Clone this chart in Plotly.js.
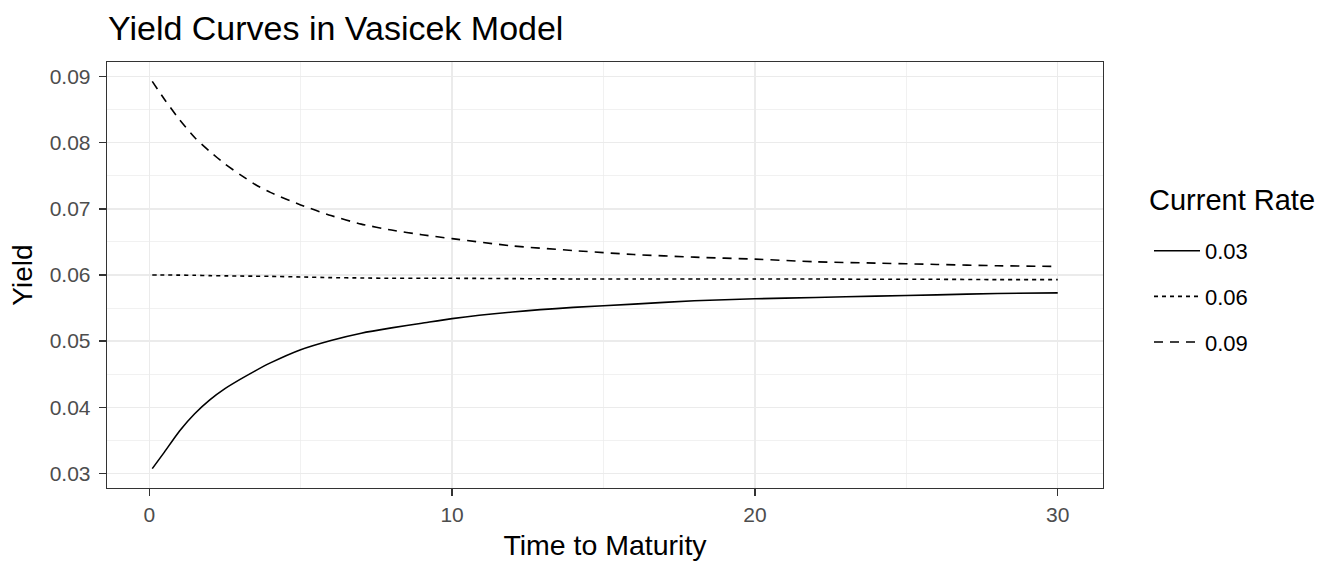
<!DOCTYPE html>
<html>
<head>
<meta charset="utf-8">
<script src="https://cdn.plot.ly/plotly-3.0.1.min.js"></script>
<style>html,body{margin:0;padding:0;background:#fff;}#chart{width:1344px;height:576px;}</style>
</head>
<body>
<div id="chart"></div>
<script>
// Time to maturity (years)
var maturity = [0.1, 0.5, 1, 1.5, 2, 2.5, 3, 3.5, 4, 5, 6, 7, 8, 9, 10, 12, 14, 16, 18, 20, 22, 24, 26, 28, 30];
// Current rate labels
var rateLabels = ["0.03", "0.06", "0.09"];
var legendTitle = "Current Rate";
// Yields
var yield003 = [0.0307, 0.0332, 0.0364, 0.0390, 0.0411, 0.0428, 0.0442, 0.0455, 0.0467, 0.0487, 0.0501, 0.0512, 0.0520, 0.0527, 0.0534, 0.0544, 0.0551, 0.0556, 0.0561, 0.0564, 0.0566, 0.0568, 0.0570, 0.0572, 0.0573];
var yield006 = [0.0600, 0.0600, 0.05998, 0.05996, 0.0599, 0.05987, 0.05984, 0.05982, 0.0598, 0.0597, 0.0596, 0.05955, 0.0595, 0.0595, 0.0595, 0.05945, 0.0594, 0.0594, 0.0594, 0.0594, 0.0594, 0.05935, 0.05935, 0.0593, 0.0593];
var yield009 = [0.0893, 0.0866, 0.0835, 0.0808, 0.0787, 0.0768, 0.0752, 0.0737, 0.0725, 0.0706, 0.0690, 0.0677, 0.0668, 0.0661, 0.0655, 0.0644, 0.0637, 0.0631, 0.0627, 0.0624, 0.0620, 0.0618, 0.0616, 0.0614, 0.0613];

var series = [yield003, yield006, yield009];
var dashes = ["solid", "4px,4px", "9px,7px"];

var traces = series.map(function (ys, i) {
  return {
    x: maturity, y: ys, type: "scatter", mode: "lines",
    name: rateLabels[i], legendgroup: "g" + i,
    line: {color: "#000000", width: 1.6, dash: dashes[i], shape: "spline", smoothing: 0.6}
  };
});

var W = 1344, H = 576, L = 107, R = 241, T = 62, B = 88;
var gridColor = "#EBEBEB";
var layout = {
  width: W, height: H,
  paper_bgcolor: "#FFFFFF", plot_bgcolor: "#FFFFFF",
  margin: {l: L, r: R, t: T, b: B, pad: 0},
  font: {family: "Liberation Sans, Arial, sans-serif", color: "#000000"},
  title: {
    text: "Yield Curves in Vasicek Model",
    font: {size: 34, color: "#000000"},
    xref: "container", x: 108 / W, xanchor: "left",
    yref: "container", y: 1 - 28 / H, yanchor: "middle"
  },
  xaxis: {
    range: [-1.395, 31.495], tickmode: "linear", tick0: 0, dtick: 10,
    showgrid: true, gridcolor: gridColor, gridwidth: 1.3,
    minor: {dtick: 5, showgrid: true, gridcolor: gridColor, gridwidth: 0.7},
    zeroline: false, showline: true, mirror: true, linecolor: "#333333", linewidth: 1.3,
    ticks: "outside", ticklen: 7, tickwidth: 1.3, tickcolor: "#333333",
    tickfont: {size: 21, color: "#4D4D4D"},
    title: {text: "Time to Maturity", font: {size: 28.5, color: "#000000"}, standoff: 10},
    automargin: false
  },
  yaxis: {
    range: [0.02777, 0.09223], tickmode: "linear", tick0: 0.03, dtick: 0.01, tickformat: ".2f",
    showgrid: true, gridcolor: gridColor, gridwidth: 1.3,
    minor: {dtick: 0.005, showgrid: true, gridcolor: gridColor, gridwidth: 0.7},
    zeroline: false, showline: true, mirror: true, linecolor: "#333333", linewidth: 1.3,
    ticks: "outside", ticklen: 7, tickwidth: 1.3, tickcolor: "#333333",
    tickfont: {size: 21, color: "#4D4D4D"}, ticklabelstandoff: 4,
    title: {text: "Yield", font: {size: 28, color: "#000000"}, standoff: 8},
    automargin: false
  },
  showlegend: true,
  legend: {
    xref: "container", x: 1149 / W, xanchor: "left",
    yref: "container", y: 1 - 230 / H, yanchor: "top",
    bgcolor: "rgba(0,0,0,0)", borderwidth: 0,
    font: {size: 22, color: "#000000"},
    tracegroupgap: 14, itemwidth: 46
  },
  annotations: [{
    text: legendTitle, showarrow: false,
    xref: "paper", x: (1147 - L) / (W - L - R), xanchor: "left",
    yref: "paper", y: (H - B - 200) / (H - T - B), yanchor: "middle",
    font: {size: 29, color: "#000000"}
  }]
};

Plotly.newPlot("chart", traces, layout, {displayModeBar: false, staticPlot: true});
</script>
</body>
</html>
